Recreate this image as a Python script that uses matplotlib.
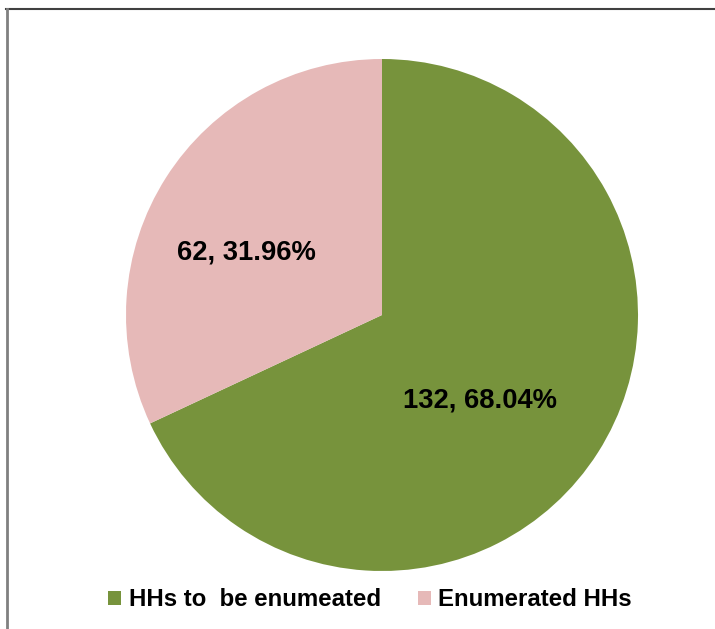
import matplotlib.pyplot as plt
from matplotlib.lines import Line2D
from matplotlib.patches import Patch

plt.rcParams['font.family'] = ['Liberation Sans', 'DejaVu Sans']

labels = ["HHs to  be enumeated", "Enumerated HHs"]
values = [132, 62]
colors = ["#77933C", "#E6B9B8"]

W, H = 715, 629
fig = plt.figure(figsize=(W / 100, H / 100), dpi=100, facecolor='w')
ax = fig.add_axes([0, 0, 1, 1])

total = sum(values)
def fmt(v):
    return "%d, %.2f%%" % (v, 100.0 * v / total)

ax.pie(values, colors=colors, startangle=90, counterclock=False,
       center=(382, H - 315), radius=256, frame=True)
ax.set_xlim(0, W)
ax.set_ylim(0, H)
ax.set_aspect('equal')
ax.axis('off')

# data labels
pos = [(480, H - 401), (246, H - 252)]
for v, p in zip(values, pos):
    ax.text(p[0], p[1], fmt(v), ha='center', va='center',
            fontsize=19.7, fontweight='bold', color='black')

# chart border (only top and left are visible)
fig.add_artist(Line2D([6 / W, 1], [1 - 9 / H, 1 - 9 / H], color='#404040', lw=1.5))
fig.add_artist(Line2D([6.5 / W, 6.5 / W], [0, 1 - 9 / H], color='#808080', lw=2))

handles = [Patch(facecolor=c, edgecolor='none') for c in colors]
fig.legend(handles, labels, loc='center', bbox_to_anchor=(370 / W, 29 / H), ncol=2,
           frameon=False, prop={'weight': 'bold', 'size': 17.3},
           handlelength=0.55, handleheight=0.55, handletextpad=0.3, columnspacing=1.55)

fig.savefig('out.png', dpi=100)
